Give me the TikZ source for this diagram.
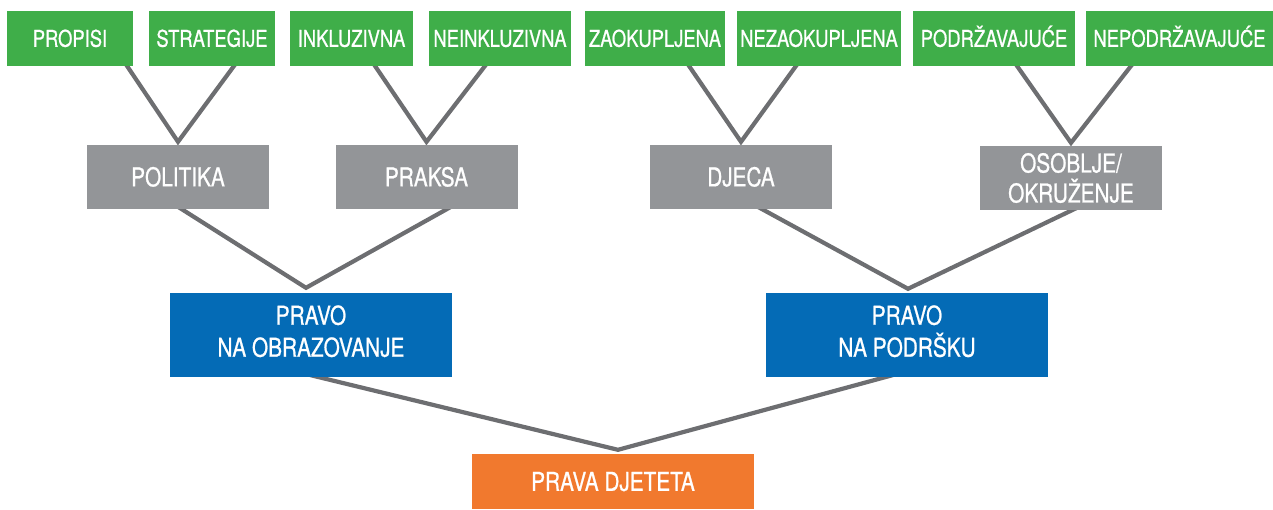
\documentclass[tikz,border=0pt]{standalone}
\usepackage{fontspec}
\setmainfont[FakeStretch=0.8,FakeBold=0.8]{TeX Gyre Heros}
\usetikzlibrary{calc,backgrounds}
\definecolor{cgreen}{HTML}{3FAE49}
\definecolor{cgray}{HTML}{939598}
\definecolor{cblue}{HTML}{046BB6}
\definecolor{corange}{HTML}{F1792E}
\definecolor{cline}{HTML}{6D6E71}
\tikzset{
  box/.style={inner sep=0pt, text=white, align=center},
  gbox/.style={box, fill=cgreen, minimum height=55pt, font=\fontsize{23}{27}\selectfont, text height=16.5pt, text depth=0pt},
  graybox/.style={box, fill=cgray, minimum height=64pt, minimum width=182pt, font=\fontsize{26}{30}\selectfont},
  bbox/.style={box, fill=cblue, minimum height=84pt, minimum width=282pt, font=\fontsize{26}{32}\selectfont, text depth=8pt},
  obox/.style={box, fill=corange, minimum height=55pt, minimum width=282pt, font=\fontsize{26}{30}\selectfont, text height=18.7pt, text depth=0pt},
  conn/.style={draw=cline, line width=4.2pt, line join=miter}
}
\begin{document}
\begin{tikzpicture}[x=1pt,y=-1pt]
\useasboundingbox (0,0) rectangle (1273,509);
% green
\node[gbox, minimum width=126pt] (propisi) at (70,38.5) {PROPISI};
\node[gbox, minimum width=126pt] (strategije) at (212,38.5) {STRATEGIJE};
\node[gbox, minimum width=123pt] (inkl) at (351.5,38.5) {INKLUZIVNA};
\node[gbox, minimum width=142pt] (neinkl) at (500,38.5) {NEINKLUZIVNA};
\node[gbox, minimum width=140pt] (zaok) at (655,38.5) {ZAOKUPLJENA};
\node[gbox, minimum width=164pt] (nezaok) at (819,38.5) {NEZAOKUPLJENA};
\node[gbox, minimum width=162pt] (podr) at (994,38.5) {PODRŽAVAJUĆE};
\node[gbox, minimum width=187pt] (nepodr) at (1179.5,38.5) {NEPODRŽAVAJUĆE};
% gray
\node[graybox, text height=18.7pt, text depth=0pt] (politika) at (178,177) {POLITIKA};
\node[graybox, text height=18.7pt, text depth=0pt] (praksa) at (426.5,177) {PRAKSA};
\node[graybox, text height=18.7pt, text depth=0pt] (djeca) at (741,177) {DJECA};
\node[graybox] (osoblje) at (1071,178) {OSOBLJE/\\OKRUŽENJE};
% blue
\node[bbox] (obraz) at (311,335) {PRAVO\\NA OBRAZOVANJE};
\node[bbox] (podrska) at (907,335) {PRAVO\\NA PODRŠKU};
% orange
\node[obox] (dijete) at (613,481.5) {PRAVA DJETETA};
% connectors
\begin{scope}[on background layer]
\coordinate (a1) at ([yshift=3pt]politika.north);
\coordinate (a2) at ([yshift=3pt]praksa.north);
\coordinate (a3) at ([yshift=3pt]djeca.north);
\coordinate (a4) at ([yshift=3pt]osoblje.north);
\coordinate (a5) at ([xshift=-5pt,yshift=5pt]obraz.north);
\coordinate (a6) at ([xshift=1pt,yshift=4pt]podrska.north);
\coordinate (a7) at ([xshift=5pt,yshift=4pt]dijete.north);
\draw[conn] ($(a1)!1.08!([xshift=-6pt]propisi.south east)$) -- (a1) -- ($(a1)!1.08!([xshift=85pt]strategije.south west)$);
\draw[conn] ($(a2)!1.08!([xshift=-38pt]inkl.south east)$) -- (a2) -- ($(a2)!1.08!([xshift=56pt]neinkl.south west)$);
\draw[conn] ($(a3)!1.08!([xshift=-36pt]zaok.south east)$) -- (a3) -- ($(a3)!1.08!([xshift=59pt]nezaok.south west)$);
\draw[conn] ($(a4)!1.08!([xshift=-58pt]podr.south east)$) -- (a4) -- ($(a4)!1.08!([xshift=45pt]nepodr.south west)$);
\draw[conn] ($(a5)!1.05!([xshift=95pt]politika.south west)$) -- (a5) -- ($(a5)!1.05!([xshift=-71pt]praksa.south east)$);
\draw[conn] ($(a6)!1.05!([xshift=-70pt]djeca.south east)$) -- (a6) -- ($(a6)!1.05!([xshift=1pt]osoblje.south)$);
\draw[conn] ($(a7)!1.03!([xshift=8pt]obraz.south)$) -- (a7) -- ($(a7)!1.03!([xshift=-22pt]podrska.south)$);
\end{scope}
\end{tikzpicture}
\end{document}
